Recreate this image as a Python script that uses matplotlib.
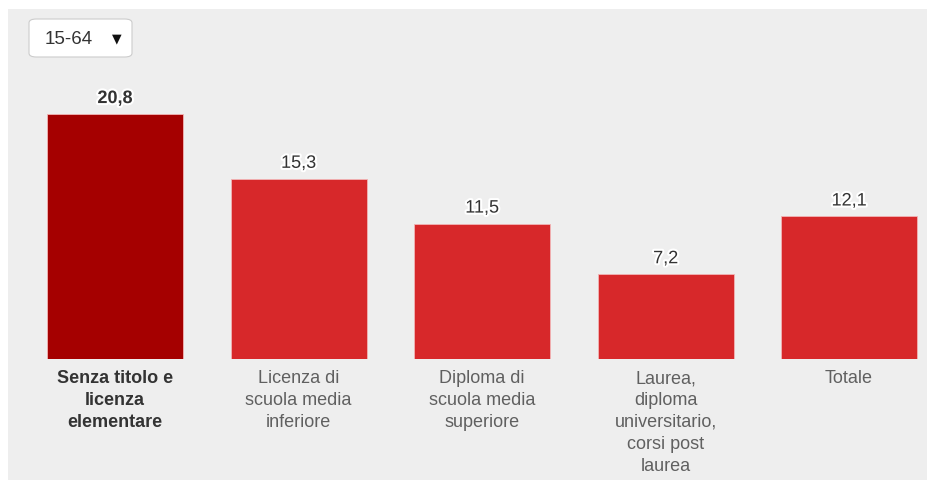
import matplotlib.pyplot as plt
from matplotlib.patches import FancyBboxPatch
import matplotlib.patheffects as pe

# Dati
categories = [
    "Senza titolo e\nlicenza\nelementare",
    "Licenza di\nscuola media\ninferiore",
    "Diploma di\nscuola media\nsuperiore",
    "Laurea,\ndiploma\nuniversitario,\ncorsi post\nlaurea",
    "Totale",
]
values = [20.8, 15.3, 11.5, 7.2, 12.1]
highlight = 0
age_label = "15-64"

plt.rcParams['font.family'] = ['Liberation Sans', 'DejaVu Sans']

W, H = 928, 480
fig = plt.figure(figsize=(W / 100, H / 100), dpi=100)
fig.patch.set_facecolor("white")

# pannello grigio di sfondo
bg = fig.add_axes([8 / W, 0, 1 - 8 / W, 1 - 9 / H])
bg.set_facecolor("#eeeeee")
bg.set_xticks([])
bg.set_yticks([])
for s in bg.spines.values():
    s.set_visible(False)

# asse del grafico: baseline a y=359 px, da x=8 a x=928 px
base_px = 359
top_px = 9
ax = fig.add_axes([8 / W, 1 - base_px / H, 1 - 8 / W, (base_px - top_px) / H])
ax.patch.set_alpha(0)
px_per_unit = 245 / 20.8
ax.set_ylim(0, (base_px - top_px) / px_per_unit)
ax.set_xlim((8 - 115) / 183.5, (928 - 115) / 183.5)
ax.axis('off')

colors = ["#a50000" if i == highlight else "#d7282a" for i in range(len(values))]
xs = list(range(len(values)))
ax.bar(xs, values, width=136 / 183.5, color=colors, edgecolor="#f2b5b5", linewidth=0.6)

halo = [pe.withStroke(linewidth=3, foreground="white")]
for i, v in enumerate(values):
    ax.annotate(f"{v:.1f}".replace(".", ","), (i, v), xytext=(0, 5),
                textcoords="offset points", ha="center", va="bottom",
                fontsize=13, color="#333333",
                fontweight="bold" if i == highlight else "normal",
                path_effects=halo)
    ax.annotate(categories[i], (i, 0), xytext=(0, -8), textcoords="offset points",
                ha="center", va="top", fontsize=13, linespacing=1.38,
                color="#333333" if i == highlight else "#606060",
                fontweight="bold" if i == highlight else "normal",
                annotation_clip=False)

# menu a tendina
box = FancyBboxPatch((29 / W, 1 - 57 / H), 103 / W, 38 / H,
                     boxstyle="round,pad=0,rounding_size=0.008",
                     transform=fig.transFigure, facecolor="white",
                     edgecolor="#cccccc", linewidth=0.8)
fig.patches.append(box)
fig.text(45 / W, 1 - 39 / H, age_label, fontsize=13.5, color="#333333", va="center")
fig.text(117 / W, 1 - 39 / H, "▼", fontsize=9, color="#111111", va="center",
         ha="center", family=['DejaVu Sans'])

plt.savefig("out.png", dpi=100)
plt.close()
